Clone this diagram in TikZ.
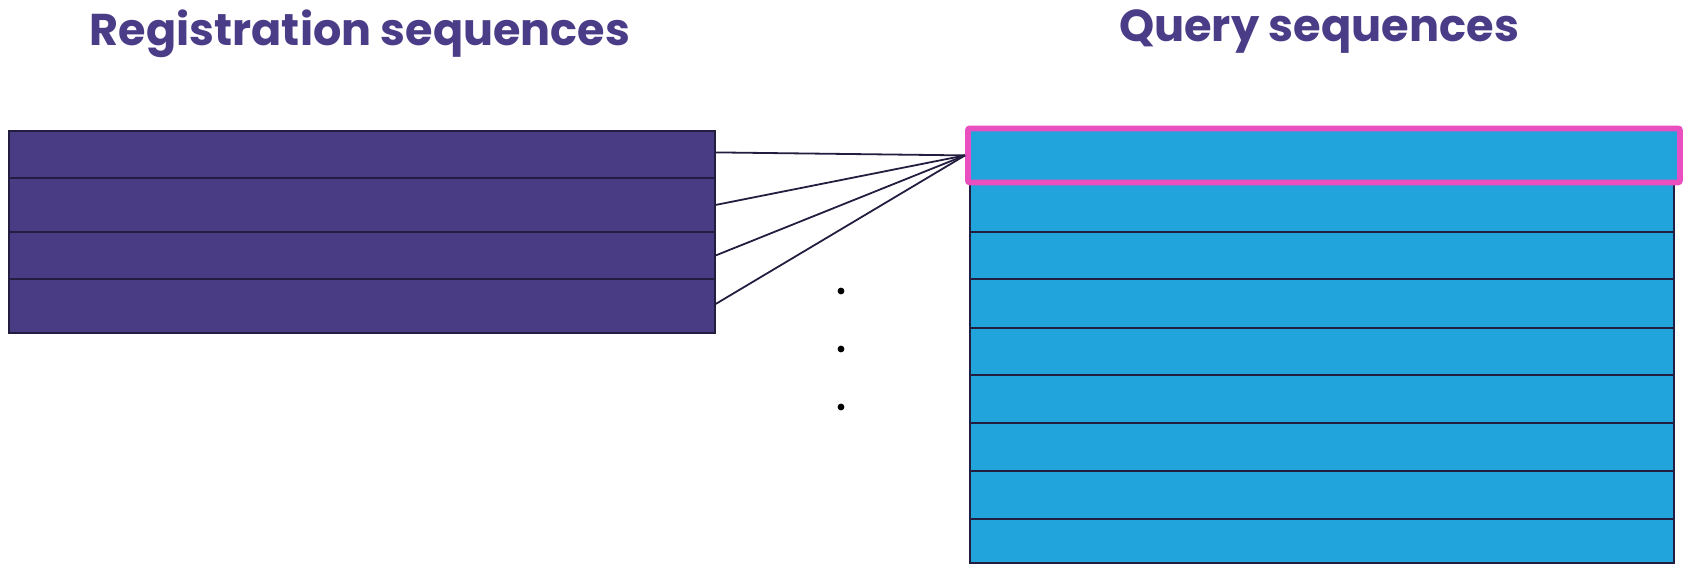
\documentclass[tikz,border=0pt]{standalone}
\usepackage{fontspec}
\setmainfont{Poppins}
\definecolor{titlec}{HTML}{4B3C87}
\definecolor{regc}{HTML}{4A3B85}
\definecolor{qc}{HTML}{21A4DC}
\definecolor{pinkc}{HTML}{E94FBE}
\definecolor{linec}{HTML}{231E40}
\begin{document}
\begin{tikzpicture}[x=0.5pt,y=-0.5pt,
  regrow/.style={draw=linec, line width=0.9pt, fill=regc, inner sep=0pt, anchor=north west, minimum width=353pt},
  qrow/.style={draw=linec, line width=0.9pt, fill=qc, inner sep=0pt, anchor=north west, minimum width=352.2pt},
  hilite/.style={draw=pinkc, line width=2.9pt, fill=qc, rounded corners=1pt, inner sep=0pt, anchor=north west, minimum width=356pt, minimum height=27pt},
  link/.style={draw=linec, line width=0.9pt},
  dotc/.style={circle, fill=black, inner sep=0pt, minimum size=3.4pt},
  titlestyle/.style={text=titlec, inner sep=0pt, anchor=base, font=\bfseries}]
\useasboundingbox (0,0) rectangle (1695,568);
% titles
\node[titlestyle] (t1) at (360,45) {\resizebox{270pt}{!}{Registration sequences}};
\node[titlestyle] (t2) at (1319,41) {\resizebox{200pt}{!}{Query sequences}};
% registration rows
\node[regrow, minimum height=23.5pt] (r1) at (8,130) {};
\node[regrow, minimum height=27pt] (r2) at (8,177) {};
\node[regrow, minimum height=23.5pt] (r3) at (8,231) {};
\node[regrow, minimum height=27pt] (r4) at (8,278) {};
% query rows
\node[qrow, minimum height=25.6pt] (q1) at (969,179.5) {};
\node[qrow, minimum height=23.8pt] (q2) at (969,230.7) {};
\node[qrow, minimum height=24.2pt] (q3) at (969,278.3) {};
\node[qrow, minimum height=23.65pt] (q4) at (969,326.7) {};
\node[qrow, minimum height=24.15pt] (q5) at (969,374) {};
\node[qrow, minimum height=23.85pt] (q6) at (969,422.3) {};
\node[qrow, minimum height=24.15pt] (q7) at (969,470) {};
\node[qrow, minimum height=21.7pt] (q8) at (969,518.3) {};
\node[hilite] (q0) at (965,125.5) {};
% connectors
\draw[link] ([yshift=1pt]r1.east) -- (q0.west);
\draw[link] (r2.east) -- (q0.west);
\draw[link] (r3.east) -- (q0.west);
\draw[link] ([yshift=1pt]r4.east) -- (q0.west);
% dots
\node[dotc] (d1) at (841,291) {};
\node[dotc] (d2) at (841,349) {};
\node[dotc] (d3) at (841,407) {};
\end{tikzpicture}
\end{document}
